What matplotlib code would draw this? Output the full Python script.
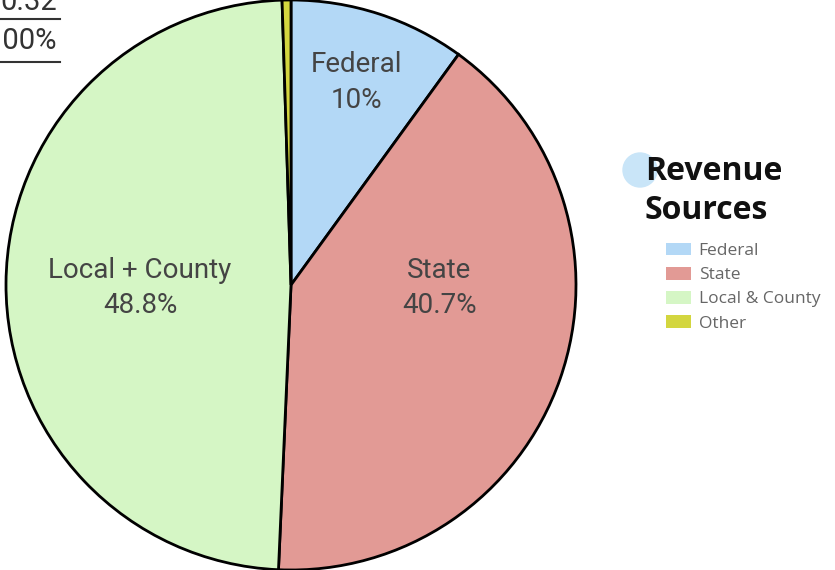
import matplotlib.pyplot as plt
from matplotlib.patches import Ellipse
from matplotlib.lines import Line2D

# Revenue shares (%)
sources = ["Federal", "State", "Local + County", "Other"]
legend_names = ["Federal", "State", "Local & County", "Other"]
shares = [10.0, 40.7, 48.8, 0.5]
share_labels = ["10%", "40.7%", "48.8%", ""]
colors = ["#b3d8f6", "#e29a95", "#d5f6c5", "#d3d63f"]

# leftover table cells in the top-left corner
table_values = ["0.32", "100%"]

fig = plt.figure(figsize=(8.35, 5.7), dpi=100)
ax = fig.add_axes([6 / 835, 0 / 570, 570 / 835, 1.0])

wedges, _ = ax.pie(shares, colors=colors, startangle=90, counterclock=False,
                   wedgeprops=dict(edgecolor="black", linewidth=2))
ax.set_xlim(-1.0, 1.0)
ax.set_ylim(-1.0, 1.0)
ax.set_aspect("equal")

label_pos = [(0.23, 0.71), (0.52, -0.01), (-0.53, -0.01)]
for (x, y), name, pct in zip(label_pos, sources, share_labels):
    ax.text(x, y, f"{name}\n{pct}", ha="center", va="center", fontsize=20,
            family="Roboto", color="#444444", linespacing=1.4)

# legend
fig.patches.append(Ellipse((640 / 835, 1 - 170 / 570), 34 / 835, 34 / 570,
                           transform=fig.transFigure, color="#c9e5f8", zorder=0))
fig.text(645 / 835, 1 - 191 / 570, "Revenue\nSources", ha="left", va="center",
         fontsize=23, fontweight="bold", family="Open Sans", color="#111111",
         linespacing=1.25)
fig.legend(wedges, legend_names, loc="upper left",
           bbox_to_anchor=(650 / 835, 1 - 227 / 570), frameon=False,
           handlelength=1.45, handleheight=0.75, handletextpad=0.45,
           labelspacing=0.45, prop=dict(family="Open Sans", size=12.5),
           labelcolor="#666666")
for w in fig.legends[0].get_patches():
    w.set_edgecolor("none")

# partial table in the corner
fig.text(57 / 835, 1 - 2 / 570, table_values[0], ha="right", va="center",
         fontsize=21, family="Roboto", color="#333333")
fig.text(57 / 835, 1 - 41 / 570, table_values[1], ha="right", va="center",
         fontsize=21, family="Roboto", color="#333333")
for yy in (19, 62):
    fig.add_artist(Line2D([0, 60 / 835], [1 - yy / 570, 1 - yy / 570],
                          transform=fig.transFigure, color="#333333", lw=1.5))

fig.savefig("out.png", dpi=100)
